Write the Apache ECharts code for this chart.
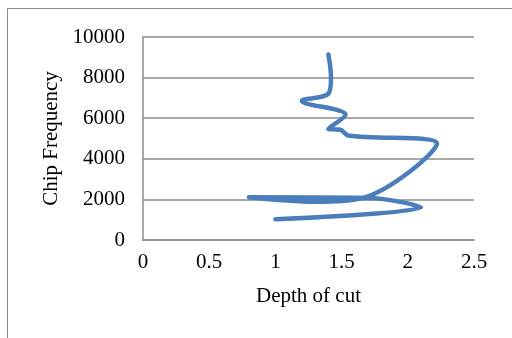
<!DOCTYPE html>
<html>
<head>
<meta charset="utf-8">
<script src="https://cdn.jsdelivr.net/npm/echarts@6/dist/echarts.min.js"></script>
<style>
  html, body { margin: 0; padding: 0; background: #fff; }
  #chart { width: 512px; height: 338px; }
</style>
</head>
<body>
<div id="chart"></div>
<script>
// Chip frequency against depth of cut, traced as one smoothed path
const depthOfCut = [1.0, 2.1, 1.7, 0.8, 1.3, 1.65, 2.22, 1.55, 1.49, 1.4, 1.53, 1.2, 1.4, 1.42, 1.4];
const chipFrequency = [1020, 1600, 2070, 2100, 1880, 2050, 4750, 5150, 5430, 5470, 6170, 6850, 7200, 8000, 9140];
const xTicks = [0, 0.5, 1, 1.5, 2, 2.5];
const yTicks = [0, 2000, 4000, 6000, 8000, 10000];

const points = depthOfCut.map((d, i) => [d, chipFrequency[i]]);
const serif = '"Liberation Serif", "Times New Roman", serif';

const chart = echarts.init(document.getElementById('chart'));
chart.setOption({
  animation: false,
  backgroundColor: '#fff',
  graphic: [{
    type: 'rect',
    shape: { x: 7.5, y: 8.5, width: 700, height: 500 },
    style: { fill: null, stroke: '#8c8c8c', lineWidth: 1 },
    silent: true
  }],
  grid: { left: 143, right: 38, top: 37, bottom: 98, containLabel: false },
  xAxis: {
    type: 'value',
    min: xTicks[0],
    max: xTicks[xTicks.length - 1],
    interval: 0.5,
    name: 'Depth of cut',
    nameLocation: 'middle',
    nameGap: 46,
    nameTextStyle: { fontFamily: serif, fontSize: 21, color: '#000' },
    axisLine: { show: true, lineStyle: { color: '#8c8c8c', width: 1.5 } },
    axisTick: { show: false },
    splitLine: { show: false },
    axisLabel: { fontFamily: serif, fontSize: 21, color: '#000', margin: 12, formatter: v => String(v) }
  },
  yAxis: {
    type: 'value',
    min: yTicks[0],
    max: yTicks[yTicks.length - 1],
    interval: 2000,
    name: 'Chip Frequency',
    nameLocation: 'middle',
    nameGap: 80,
    nameTextStyle: { fontFamily: serif, fontSize: 21, color: '#000' },
    axisLine: { show: true, lineStyle: { color: '#8c8c8c', width: 1.5 } },
    axisTick: { show: false },
    splitLine: { show: true, lineStyle: { color: '#8c8c8c', width: 1.5 } },
    axisLabel: { fontFamily: serif, fontSize: 21, color: '#000', margin: 18, formatter: v => String(v) }
  },
  series: [{
    type: 'line',
    data: points,
    smooth: 0.35,
    showSymbol: false,
    lineStyle: { color: '#4a7ebb', width: 4.5, cap: 'round', join: 'round' }
  }]
});
</script>
</body>
</html>
